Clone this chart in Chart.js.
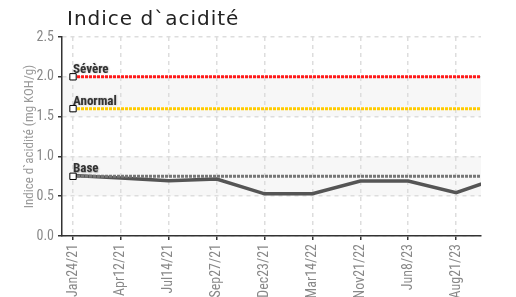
<!DOCTYPE html>
<html>
<head>
<meta charset="utf-8">
<script src="https://cdn.jsdelivr.net/npm/chart.js@4"></script>
<style>
    html, body { margin: 0; padding: 0; background: #fff; }
    #wrap { width: 516px; height: 297px; }
</style>
</head>
<body>
<div id="wrap"><canvas id="acid-chart" width="516" height="297"></canvas></div>
<script>
// sample dates (x categories), last one is cut off by the right edge
const dates = ['Jan24/21', 'Apr12/21', 'Jul14/21', 'Sep27/21', 'Dec23/21', 'Mar14/22', 'Nov21/22', 'Jun8/23', 'Aug21/23', ''];
const acidValues = [0.76, 0.73, 0.695, 0.715, 0.53, 0.53, 0.69, 0.69, 0.545, 0.75];

// limits
const limitNames = ['Sévère', 'Anormal', 'Base'];
const limitValues = [2.0, 1.6, 0.75];
const limitColors = ['#ff1a1a', '#ffcc00', '#777777'];

// alternate shaded bands on y
const bandRanges = [[0.5, 1.0], [1.5, 2.0]];
const yTicks = [0, 0.5, 1.0, 1.5, 2.0, 2.5];

const condensed = '"Liberation Sans Narrow", "Roboto Condensed", Roboto, sans-serif';

const bandsPlugin = {
    id: 'bands',
    beforeDraw(chart) {
        const {ctx, chartArea, scales} = chart;
        ctx.save();
        ctx.fillStyle = '#f7f7f7';
        bandRanges.forEach((b) => {
            const y1 = scales.y.getPixelForValue(b[1]);
            const y0 = scales.y.getPixelForValue(b[0]);
            ctx.fillRect(chartArea.left, y1, chartArea.right - chartArea.left, y0 - y1);
        });
        ctx.restore();
    }
};

const textPlugin = {
    id: 'texts',
    afterDraw(chart) {
        const {ctx, scales} = chart;
        ctx.save();
        // title
        ctx.font = '20px "DejaVu Sans", sans-serif';
        ctx.fillStyle = '#222';
        ctx.textAlign = 'left';
        ctx.textBaseline = 'alphabetic';
        ctx.letterSpacing = '1px';
        ctx.fillText('Indice d`acidité', 67, 25);
        ctx.letterSpacing = '0px';
        // limit labels
        ctx.font = 'bold 13px ' + condensed;
        ctx.shadowColor = 'rgba(0,0,0,0.35)';
        ctx.shadowBlur = 1.5;
        ctx.shadowOffsetX = 0.5;
        ctx.shadowOffsetY = 0.5;
        ctx.fillStyle = '#333';
        limitNames.forEach((name, i) => {
            const x = scales.x.getPixelForValue(0);
            const y = scales.y.getPixelForValue(limitValues[i]);
            ctx.fillText(name, x, y - 4);
        });
        ctx.restore();
    }
};

const datasets = [];
limitNames.forEach((name, i) => {
    datasets.push({
        label: name,
        data: dates.map((d, j) => ({x: j, y: limitValues[i]})),
        borderColor: limitColors[i],
        borderWidth: 3,
        borderDash: [3, 1],
        pointStyle: 'rect',
        pointRadius: (c) => (c.dataIndex === 0 ? 4.5 : 0),
        pointBackgroundColor: '#fff',
        pointBorderColor: '#000',
        pointBorderWidth: 1,
        order: 1
    });
});
datasets.push({
    label: 'Indice',
    data: acidValues.map((v, j) => ({x: j, y: v})),
    borderColor: '#555',
    borderWidth: 3.5,
    pointRadius: 0,
    tension: 0,
    order: 2
});

new Chart(document.querySelector('#acid-chart'), {
    type: 'line',
    data: {datasets: datasets},
    options: {
        responsive: false,
        animation: false,
        events: [],
        layout: {padding: {left: 0, right: 35, top: 37, bottom: 0}},
        plugins: {
            legend: {display: false},
            tooltip: {enabled: false}
        },
        scales: {
            x: {
                type: 'linear',
                min: -0.23,
                max: 8.52,
                afterFit: (s) => { s.height = 61; },
                afterBuildTicks: (s) => {
                    s.ticks = dates.slice(0, 9).map((d, j) => ({value: j}));
                },
                ticks: {
                    autoSkip: false,
                    maxRotation: 90,
                    minRotation: 90,
                    padding: 4,
                    color: '#888',
                    font: {family: condensed, size: 14},
                    callback: (v) => dates[v]
                },
                grid: {
                    color: '#dddddd',
                    lineWidth: 1.5,
                    tickLength: 4,
                    tickColor: '#333',
                    tickBorderDash: [],
                    tickWidth: 1.5
                },
                border: {display: true, color: '#333', width: 1.5, dash: [4, 4]}
            },
            y: {
                min: 0,
                max: 2.5,
                afterFit: (s) => { s.width = 62; },
                afterBuildTicks: (s) => {
                    s.ticks = yTicks.map((v) => ({value: v}));
                },
                ticks: {
                    padding: 4,
                    color: '#888',
                    font: {family: condensed, size: 14},
                    callback: (v) => v.toFixed(1)
                },
                grid: {
                    color: '#dddddd',
                    lineWidth: 1.5,
                    tickLength: 4,
                    tickColor: '#333',
                    tickBorderDash: [],
                    tickWidth: 1.5
                },
                border: {display: true, color: '#333', width: 1.5, dash: [4, 4]},
                title: {
                    display: true,
                    text: 'Indice d`acidité (mg KOH/g)',
                    color: '#999',
                    font: {family: condensed, size: 13},
                    padding: {top: 22, bottom: 0}
                }
            }
        }
    },
    plugins: [bandsPlugin, textPlugin]
});
</script>
</body>
</html>
